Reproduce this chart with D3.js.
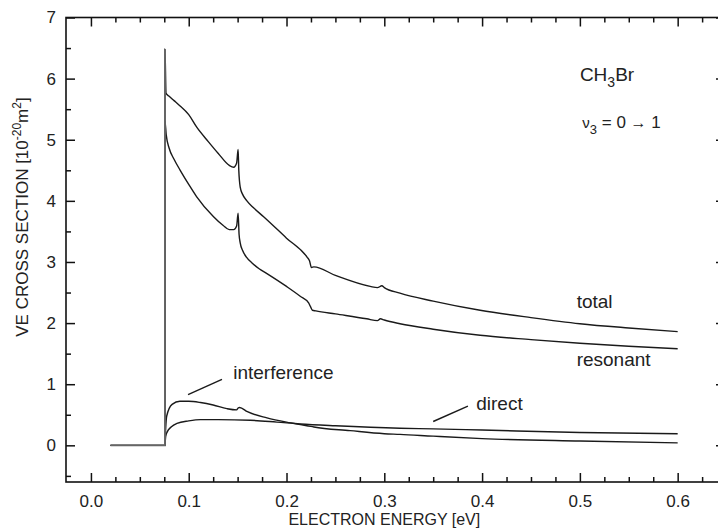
<!DOCTYPE html>
<html>
<head>
<meta charset="utf-8">
<script src="https://cdn.jsdelivr.net/npm/d3@7"></script>
<style>
  html, body { margin: 0; padding: 0; background: #fff; }
  text { font-family: "Liberation Sans", Arial, sans-serif; fill: #222; }
</style>
</head>
<body>
<div id="chart"><svg></svg></div>
<script>
const width = 718;
const height = 528;

// series, [energy eV, cross section 1e-20 m2]
const totalData = [
  [0.02, 0], [0.0757, 0], [0.0757, 6.48], [0.0768, 5.76], [0.08, 5.71], [0.085, 5.64],
  [0.09, 5.57], [0.1, 5.41], [0.108, 5.21], [0.12, 4.97], [0.13, 4.78], [0.1415, 4.58],
  [0.146, 4.55], [0.149, 4.62], [0.1505, 4.84], [0.1512, 4.5], [0.1527, 4.22], [0.155, 4.11],
  [0.1595, 4.0], [0.166, 3.89], [0.1766, 3.74], [0.2, 3.39], [0.221, 3.08], [0.2235, 3.02],
  [0.2255, 2.91], [0.228, 2.92], [0.25, 2.78], [0.2856, 2.6], [0.293, 2.58], [0.2975, 2.61],
  [0.3, 2.58], [0.316, 2.49], [0.35, 2.36], [0.398, 2.21], [0.45, 2.09], [0.5, 1.99],
  [0.55, 1.92], [0.6, 1.86]
];
const resonantData = [
  [0.02, 0], [0.0757, 0], [0.0757, 5.3], [0.077, 5.08], [0.08, 4.86], [0.085, 4.68],
  [0.0913, 4.5], [0.1, 4.27], [0.108, 4.07], [0.1254, 3.74], [0.135, 3.6], [0.1414, 3.53],
  [0.146, 3.53], [0.149, 3.59], [0.1505, 3.8], [0.1515, 3.45], [0.1527, 3.31], [0.155, 3.19],
  [0.159, 3.08], [0.165, 2.98], [0.172, 2.89], [0.18, 2.81], [0.2, 2.6], [0.214, 2.44],
  [0.2226, 2.33], [0.2245, 2.27], [0.2265, 2.21], [0.23, 2.2], [0.25, 2.15], [0.282, 2.07],
  [0.293, 2.04], [0.296, 2.07], [0.3, 2.05], [0.316, 1.99], [0.35, 1.9], [0.398, 1.8],
  [0.45, 1.73], [0.5, 1.67], [0.55, 1.62], [0.6, 1.58]
];
const interferenceData = [
  [0.0757, 0], [0.0765, 0.3], [0.0775, 0.48], [0.083, 0.67], [0.091, 0.72],
  [0.1, 0.72], [0.112, 0.7], [0.125, 0.66], [0.139, 0.6], [0.149, 0.58], [0.1505, 0.61],
  [0.152, 0.62], [0.16, 0.55], [0.18, 0.45], [0.2, 0.38], [0.214, 0.34], [0.225, 0.31],
  [0.228, 0.3], [0.265, 0.24], [0.3, 0.19], [0.316, 0.18], [0.35, 0.15], [0.4, 0.11],
  [0.5, 0.07], [0.6, 0.04]
];
const directData = [
  [0.0757, 0], [0.0765, 0.15], [0.078, 0.22], [0.082, 0.3], [0.088, 0.36],
  [0.1, 0.4], [0.112, 0.42], [0.13, 0.42], [0.163, 0.41], [0.19, 0.38], [0.214, 0.35],
  [0.25, 0.32], [0.316, 0.28], [0.35, 0.27], [0.4, 0.25], [0.5, 0.21], [0.6, 0.19]
];

const xTicks = [0, 0.1, 0.2, 0.3, 0.4, 0.5, 0.6];
const yTicks = [0, 1, 2, 3, 4, 5, 6, 7];

const svg = d3.select('#chart').select('svg')
    .attr('width', width)
    .attr('height', height);

const mLeft = 66, mRight = 725, mTop = 17.5, mBottom = 482;

const x = d3.scaleLinear().domain([-0.0255, 0.6484]).range([mLeft, mRight]);
const y = d3.scaleLinear().domain([-0.6, 7]).range([mBottom, mTop]);

// minor ticks
const xMinor = d3.range(0, 0.651, 0.025).filter(v => Math.abs(v * 10 - Math.round(v * 10)) > 1e-6);
const yMinor = d3.range(-0.5, 7, 0.5).filter(v => Math.abs(v - Math.round(v)) > 1e-6);

function axisStyle(g) {
  g.select('.domain').remove();
  g.selectAll('line').attr('stroke', '#111').attr('stroke-width', 1.5);
}
function labelStyle(g) {
  g.selectAll('text').attr('font-size', 17).attr('fill', '#222')
    .style('font-family', '"Liberation Sans", Arial, sans-serif');
}

// bottom
svg.append('g').attr('transform', `translate(0,${mBottom})`)
  .call(d3.axisBottom(x).tickValues(xTicks).tickSize(-9).tickPadding(13).tickFormat(d3.format('.1f')))
  .call(axisStyle).call(labelStyle);
svg.append('g').attr('transform', `translate(0,${mBottom})`)
  .call(d3.axisBottom(x).tickValues(xMinor).tickSize(-5).tickFormat(''))
  .call(axisStyle);
// top
svg.append('g').attr('transform', `translate(0,${mTop})`)
  .call(d3.axisTop(x).tickValues(xTicks).tickSize(-9).tickFormat(''))
  .call(axisStyle);
svg.append('g').attr('transform', `translate(0,${mTop})`)
  .call(d3.axisTop(x).tickValues(xMinor).tickSize(-5).tickFormat(''))
  .call(axisStyle);
// left
svg.append('g').attr('transform', `translate(${mLeft},0)`)
  .call(d3.axisLeft(y).tickValues(yTicks).tickSize(-9).tickPadding(10).tickFormat(d3.format('d')))
  .call(axisStyle).call(labelStyle);
svg.append('g').attr('transform', `translate(${mLeft},0)`)
  .call(d3.axisLeft(y).tickValues(yMinor).tickSize(-5).tickFormat(''))
  .call(axisStyle);
// right
svg.append('g').attr('transform', `translate(${mRight},0)`)
  .call(d3.axisRight(y).tickValues(yTicks).tickSize(-9).tickFormat(''))
  .call(axisStyle);
svg.append('g').attr('transform', `translate(${mRight},0)`)
  .call(d3.axisRight(y).tickValues(yMinor).tickSize(-5).tickFormat(''))
  .call(axisStyle);

// frame
svg.append('rect')
  .attr('x', mLeft).attr('y', mTop)
  .attr('width', mRight - mLeft).attr('height', mBottom - mTop)
  .attr('fill', 'none').attr('stroke', '#111').attr('stroke-width', 1.6);

// curves
const line = d3.line()
  .x(d => x(d[0]))
  .y(d => y(d[1]))
  .curve(d3.curveMonotoneX);

const series = [interferenceData, directData, resonantData, totalData];
svg.append('g').selectAll('path.curve')
  .data(series)
  .join('path')
  .attr('class', 'curve')
  .attr('d', line)
  .attr('fill', 'none')
  .attr('stroke', '#1a1a1a')
  .attr('stroke-width', 1.4);

// the shared threshold step is drawn a bit lighter, as in the original plot
svg.append('path')
  .attr('d', line(totalData.slice(0, 3)))
  .attr('fill', 'none')
  .attr('stroke', '#666')
  .attr('stroke-width', 1.9);

// labels
const lab = svg.append('g').attr('font-size', 19);
lab.append('text').attr('x', x(0.4967)).attr('y', y(2.24)).text('total');
lab.append('text').attr('x', x(0.4967)).attr('y', y(1.29)).text('resonant');
lab.append('text').attr('x', x(0.1455)).attr('y', y(1.09)).text('interference');
lab.append('text').attr('x', x(0.394)).attr('y', y(0.57)).text('direct');

// leader lines
const leaders = [
  [[0.0993, 0.83], [0.134, 1.08]],
  [[0.35, 0.39], [0.3855, 0.64]]
];
svg.append('g').selectAll('line.leader')
  .data(leaders)
  .join('line')
  .attr('class', 'leader')
  .attr('x1', d => x(d[0][0])).attr('y1', d => y(d[0][1]))
  .attr('x2', d => x(d[1][0])).attr('y2', d => y(d[1][1]))
  .attr('stroke', '#1a1a1a').attr('stroke-width', 1.4);

// molecule + transition
const mol = lab.append('text').attr('x', x(0.5)).attr('y', y(5.96));
mol.append('tspan').text('CH');
mol.append('tspan').attr('font-size', 14).attr('dy', 6).text('3');
mol.append('tspan').attr('dy', -6).text('Br');

const tr = lab.append('text').attr('x', x(0.5025)).attr('y', y(5.2)).attr('font-size', 17);
tr.append('tspan').attr('font-size', 15).text('\u03BD');
tr.append('tspan').attr('font-size', 13).attr('dy', 6).text('3');
tr.append('tspan').attr('dy', -6).text(' = 0 ');
tr.append('tspan').attr('font-size', 16).text('\u2192');
tr.append('tspan').text(' 1');

// axis titles
svg.append('text')
  .attr('x', (x(0) + x(0.6)) / 2).attr('y', 525)
  .attr('text-anchor', 'middle').attr('font-size', 16)
  .text('ELECTRON ENERGY [eV]');

const yt = svg.append('text')
  .attr('transform', `translate(28,217) rotate(-90)`)
  .attr('text-anchor', 'middle').attr('font-size', 17);
yt.append('tspan').text('VE CROSS SECTION [10');
yt.append('tspan').attr('font-size', 12).attr('dy', -7).text('-20');
yt.append('tspan').attr('dy', 7).text('m');
yt.append('tspan').attr('font-size', 12).attr('dy', -7).text('2');
yt.append('tspan').attr('dy', 7).text(']');
</script>
</body>
</html>
